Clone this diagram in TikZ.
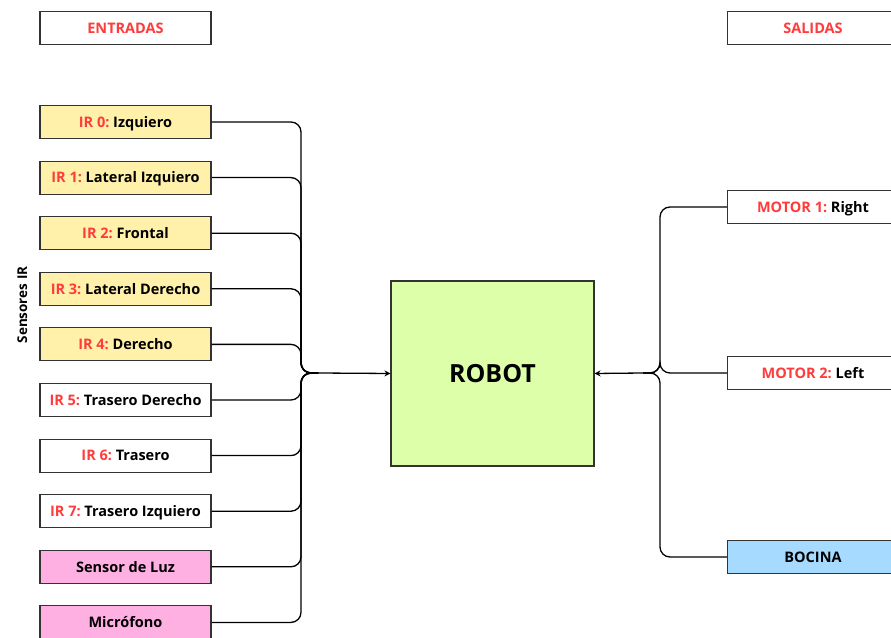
\documentclass[tikz,border=0pt]{standalone}
\usepackage{fontspec}
\setmainfont{Open Sans}
\usetikzlibrary{positioning,arrows.meta}

\definecolor{tagred}{HTML}{FF3B3B}
\definecolor{irfill}{HTML}{FFF0AA}
\definecolor{pinkfill}{HTML}{FFB0E3}
\definecolor{bluefill}{HTML}{A6DBFF}
\definecolor{robotfill}{HTML}{DDFFAA}
\definecolor{edge}{HTML}{333333}

\newcommand{\tag}[1]{\textcolor{tagred}{#1}}

\begin{document}
\frenchspacing
\begin{tikzpicture}[
	x=1pt, y=1pt
	,font=\bfseries\fontsize{14.5}{17}\selectfont
	,every node/.append style={minimum width=171pt, minimum height=33pt, inner sep=0pt,
		text height=10.5pt, text depth=0pt}
	,box/.style={rectangle, draw=edge, line width=1.1pt, fill=white}
	,ir/.style={box, fill=irfill}
	,pk/.style={box, fill=pinkfill}
	,bl/.style={box, fill=bluefill}
	,head/.style={box, text=tagred}
	,link/.style={draw, line width=1.3pt, rounded corners=10pt}
	,feed/.style={draw, line width=1.3pt, -{Stealth[length=6pt, width=6pt]}}
	,node distance=21.5pt
]
	\useasboundingbox (0,0) rectangle (891,637);

	% titulos
	\node [head] (entradas) at (125.5,609) {ENTRADAS};
	\node [head] (salidas) at (813,609) {SALIDAS};

	% entradas
	\node [ir] (ir0) at (125.5,515) {\tag{IR 0:} Izquiero};
	\node [ir, below=of ir0] (ir1) {\tag{IR 1:} Lateral Izquiero};
	\node [ir, below=of ir1] (ir2) {\tag{IR 2:} Frontal};
	\node [ir, below=of ir2] (ir3) {\tag{IR 3:} Lateral Derecho};
	\node [ir, below=of ir3] (ir4) {\tag{IR 4:} Derecho};
	\node [box, below=of ir4] (ir5) {\tag{IR 5:} Trasero Derecho};
	\node [box, below=of ir5] (ir6) {\tag{IR 6:} Trasero};
	\node [box, below=of ir6] (ir7) {\tag{IR 7:} Trasero Izquiero};
	\node [pk, below=of ir7] (luz) {Sensor de Luz};
	\node [pk, below=of luz] (mic) {Micrófono};

	\node [rotate=90, minimum width=0pt, minimum height=0pt,
		font=\bfseries\fontsize{13.5}{16}\selectfont] (sensores) at (22,332) {Sensores IR};

	% robot
	\node [box, fill=robotfill, minimum width=203pt, minimum height=185pt,
		text height=18pt, font=\bfseries\fontsize{25}{30}\selectfont] (robot) at (492.5,263.5) {ROBOT};

	% salidas
	\node [box] (m1) at (813,430) {\tag{MOTOR 1:} Right};
	\node [box] (m2) at (813,264) {\tag{MOTOR 2:} Left};
	\node [bl] (bocina) at (813,80) {BOCINA};

	\coordinate (inJ) at (318,264);
	\coordinate (outJ) at (643,264);

	\foreach \n in {ir0,ir1,ir2,ir3,ir4,ir5,ir6,ir7,luz,mic}
		\draw [link] (\n.east) -| ([xshift=-17pt]inJ) -- (inJ);
	\draw [feed] (inJ) -- (robot.west);

	\foreach \n in {m1,m2,bocina}
		\draw [link] (\n.west) -| ([xshift=17pt]outJ) -- (outJ);
	\draw [feed] (outJ) -- (robot.east);
\end{tikzpicture}
\end{document}
